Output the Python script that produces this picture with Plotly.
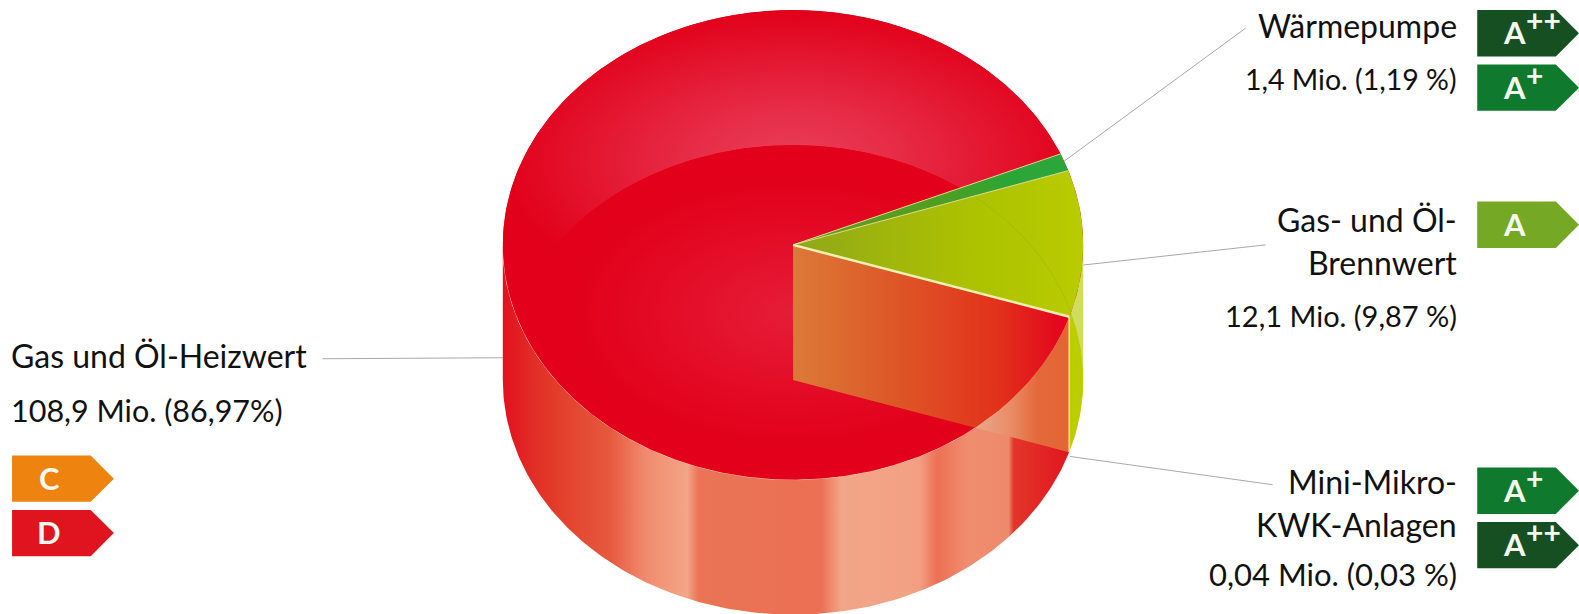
import numpy as np
import plotly.graph_objects as go

# ---------- data ----------
categories = ["Wärmepumpe", "Gas- und Öl-Brennwert", "Mini-Mikro-KWK-Anlagen", "Gas und Öl-Heizwert"]
shares = [1.19, 9.87, 0.03, 86.97]
label_lines = [
    ["Wärmepumpe", "1,4 Mio. (1,19 %)"],
    ["Gas- und Öl-", "Brennwert", "12,1 Mio. (9,87 %)"],
    ["Mini-Mikro-", "KWK-Anlagen", "0,04 Mio. (0,03 %)"],
    ["Gas und Öl-Heizwert", "108,9 Mio. (86,97%)"],
]
class_letters = ["A", "A", "A", "A", "A", "C", "D"]
class_marks = ["++", "+", "", "+", "++", "", ""]

# ---------- layout / style ----------
W, H = 1579, 614
VIEW_W, VIEW_H = 1567, 609.3     # drawing units used below
CX, CY, RX, RY, DEPTH = 787, 243, 288, 233, 134
START = 22.8
FONT = "Lato"

def C(t, dy=0):
    t = np.radians(np.asarray(t, float))
    return CX + RX * np.cos(t), CY + dy - RY * np.sin(t)

def poly(xs, ys, color=None, grad=None, line=None, lw=0):
    kw = {}
    if grad is not None:
        kw["fillgradient"] = grad
    else:
        kw["fillcolor"] = color
    return go.Scatter(x=list(xs), y=list(ys), mode="lines", fill="toself",
                      line=dict(width=lw, color=line or "rgba(0,0,0,0)"),
                      hoverinfo="skip", showlegend=False, **kw)

def stroke(xs, ys, color, width=1):
    return go.Scatter(x=list(xs), y=list(ys), mode="lines", line=dict(color=color, width=width),
                      hoverinfo="skip", showlegend=False)

def hgrad(stops, a, b):
    return dict(type="horizontal", start=a, stop=b,
                colorscale=[[(x - a) / (b - a), c] for x, c in stops])

total = sum(shares)
spans = [s / total * 360 for s in shares]
t0 = START
t1 = t0 - spans[0]   # end of heat pump
t2 = t1 - spans[1]   # end of condensing boiler
t3 = t2 - spans[2]   # end of micro CHP
t4 = t3 - spans[3]   # end of conventional

fig = go.Figure()

# leader lines
leaders = [((1056, 160), (1236, 28)), ((1075, 263), (1256, 243)),
           ((1062, 453), (1263, 481)), ((320, 356), (499, 355))]
for a, b in leaders:
    fig.add_trace(stroke([a[0], b[0]], [a[1], b[1]], "#a8a8a8"))

# side wall of the lime wedge (pale outside the see-through bottom ellipse)
ta = np.linspace(t2, 0, 40)
xt, yt = C(ta)
xb, yb = C(ta[::-1], DEPTH)
fig.add_trace(poly(np.r_[xt, xb], np.r_[yt, yb], "#cfdd5e"))
tb = np.linspace(t2, -t2, 50)
xl, yl = C(tb, DEPTH)
fig.add_trace(poly(np.r_[xl, xl[0]], np.r_[yl, yl[0]], "#bccd00"))

# side wall of the red sector
tw = np.linspace(-180, t3, 200)
xt, yt = C(tw)
xb, yb = C(tw[::-1], DEPTH)
wall = [(499, "#e3101f"), (530, "#e12e26"), (565, "#e4452f"), (605, "#e6583e"), (640, "#f08a6d"),
        (682, "#f3a688"), (693, "#ea7455"), (815, "#ec7054"), (835, "#f3a588"), (912, "#f2a084"),
        (930, "#ec7055"), (960, "#f08d6f"), (1001, "#ee8a6c"), (1006, "#e2352a"), (1062, "#e2151f")]
fig.add_trace(poly(np.r_[xt, xb], np.r_[yt, yb], grad=hgrad(wall, 499, 1062)))

# top: red sector, base colour
tr = np.linspace(t3, t4, 400)
xs, ys = C(tr)
fig.add_trace(poly(np.r_[CX, xs, CX], np.r_[CY, ys, CY], "#e2001a"))

# pale rim along the front edge of the top
xf, yf = C(np.linspace(-180, t3, 200))
fig.add_trace(stroke(xf, yf, "rgba(255,225,215,0.75)"))

# crescent highlight behind the see-through bottom ellipse
tc = np.degrees(np.arcsin((DEPTH / 2) / RY))
xa, ya = C(np.linspace(-tc, 180 + tc, 300))
xd, yd = C(np.linspace(180 - tc, tc, 300), DEPTH)
fig.add_trace(poly(np.r_[xa, xd], np.r_[ya, yd],
                   grad=dict(type="radial", colorscale=[[0, "#ea3f59"], [0.35, "#e72c47"], [0.75, "#e3122c"], [1, "#e2001a"]])))

# lens: overlap of the top and bottom ellipses
xu, yu = C(np.linspace(tc, 180 - tc, 300), DEPTH)
xv, yv = C(np.linspace(180 + tc, 360 - tc, 300))
fig.add_trace(poly(np.r_[xu, xv], np.r_[yu, yv],
                   grad=dict(type="radial", colorscale=[[0, "#e51d38"], [0.45, "#e40c27"], [0.8, "#e2001a"], [1, "#e2001a"]])))

# cut face: part seen through the top
edge_x0, edge_y0 = CX, CY + DEPTH
xe, ye = C(t3)
sl = (ye + DEPTH - edge_y0) / (xe - edge_x0)
scan = np.linspace(t3, t3 - 80, 1600)
sx, sy = C(scan)
k = int(np.argmax(sy >= edge_y0 + (sx - edge_x0) * sl))
fig.add_trace(poly(np.r_[CX, xe, sx[:k + 1], edge_x0], np.r_[CY, ye, sy[:k + 1], edge_y0],
                   grad=hgrad([(787, "#dc7a38"), (880, "#dd5a28"), (990, "#e2321b"), (1062, "#e4001f")], 787, 1062)))
# cut face: part seen through the wall
fig.add_trace(poly(np.r_[sx[:k + 1], xe], np.r_[sy[:k + 1], ye + DEPTH],
                   grad=hgrad([(sx[k], "#eaa98c"), (1005, "#e98a63"), (1030, "#e4683a"), (1062, "#e26535")], sx[k], 1062)))
fig.add_trace(stroke([xe, xe], [ye, ye + DEPTH], "#e8e58a", 1.5))

# lime wedge
xs, ys = C(np.linspace(t1, t2, 80))
fig.add_trace(poly(np.r_[CX, xs, CX], np.r_[CY, ys, CY],
                   grad=hgrad([(787, "#8ea71a"), (880, "#a0b60c"), (960, "#acc101"), (1075, "#b9cc00")], 787, 1075)))
# faint trace of the bottom ellipse inside the lime wedge
xi, yi = C(np.linspace(tc, 52, 40), DEPTH)
fig.add_trace(stroke(xi[yi > 178], yi[yi > 178], "rgba(150,170,0,0.35)"))

# heat-pump wedge
xs, ys = C(np.linspace(t0, t1, 20))
fig.add_trace(poly(np.r_[CX, xs, CX], np.r_[CY, ys, CY],
                   grad=hgrad([(787, "#6a9a1c"), (930, "#4f9f20"), (1000, "#2ca536"), (1060, "#2aa73c")], 787, 1060)))

# micro-CHP wedge (a hairline at this share) and pale seams
xs, ys = C([t2, t3])
fig.add_trace(poly([CX, xs[0], xs[1], CX], [CY, ys[0], ys[1], CY], "#f3f0b4", line="#f3f0b4", lw=2.5))
for t in (t0, t1):
    xs, ys = C(t)
    fig.add_trace(stroke([CX, xs], [CY, ys], "rgba(245,240,170,0.8)"))

# class badges
badge_boxes = [(1466, 10), (1466, 64), (1466, 200), (1466, 464), (1466, 518), (12, 452), (12, 506)]
badge_colors = ["#154f22", "#0f7a2e", "#74a825", "#0f7a2e", "#154f22", "#ee8310", "#e0141e"]
BW, BH, NOTCH = 101, 46, 23
for (bx, by), col in zip(badge_boxes, badge_colors):
    fig.add_trace(poly([bx, bx + BW - NOTCH, bx + BW, bx + BW - NOTCH, bx, bx],
                       [by, by, by + BH / 2, by + BH, by + BH, by], col))

ann = []
for (bx, by), letter, mark in zip(badge_boxes, class_letters, class_marks):
    ax = bx + 37
    ann.append(dict(x=ax, y=by + 22, text=f"<b>{letter}</b>", xref="x", yref="y", xanchor="center",
                    yanchor="middle", showarrow=False, borderpad=0,
                    font=dict(family=FONT, size=31, color="#f5f8ee")))
    if mark:
        ann.append(dict(x=ax + 10, y=by + 10, text=f"<b>{mark}</b>", xref="x", yref="y", xanchor="left",
                        yanchor="middle", showarrow=False, borderpad=0,
                        font=dict(family=FONT, size=30, color="#f5f8ee")))

# text labels
label_pos = [
    ([25, 78], "right", 1447, [32, 28.5]),
    ([218, 260, 313], "right", 1447, [32, 32, 29]),
    ([478, 520, 570], "right", 1447, [32, 32, 31]),
    ([353, 407], "left", 10, [32, 30.5]),
]
for lines, (ys_, anchor, x_, sizes) in zip(label_lines, label_pos):
    for s, y_, fs in zip(lines, ys_, sizes):
        ann.append(dict(x=x_, y=y_, text=s, xref="x", yref="y", xanchor=anchor, yanchor="middle",
                        showarrow=False, borderpad=0, font=dict(family=FONT, size=fs, color="#111111")))

fig.update_layout(
    width=W, height=H, margin=dict(l=0, r=0, t=0, b=0),
    paper_bgcolor="white", plot_bgcolor="white", showlegend=False, annotations=ann,
    xaxis=dict(range=[0, VIEW_W], visible=False, fixedrange=True),
    yaxis=dict(range=[VIEW_H, 0], visible=False, fixedrange=True),
)
fig.write_html("out.html", config=dict(displayModeBar=False),
               post_script="document.body.style.margin='0';document.body.style.overflow='hidden';")
